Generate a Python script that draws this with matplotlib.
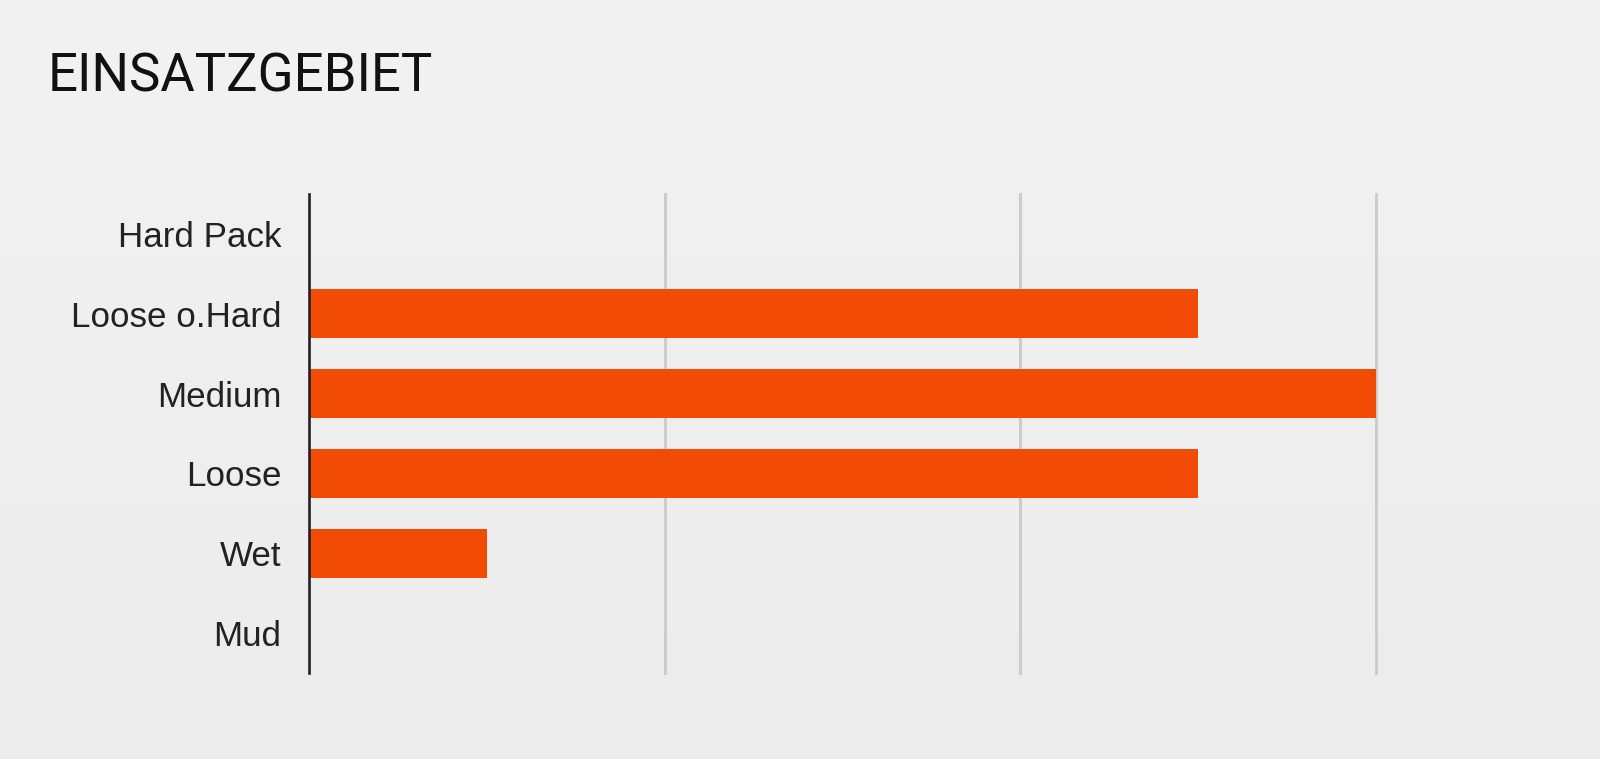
import matplotlib
matplotlib.use("Agg")
import matplotlib.pyplot as plt
import numpy as np
from matplotlib.colors import LinearSegmentedColormap

categories = ["Hard Pack", "Loose o.Hard", "Medium", "Loose", "Wet", "Mud"]
values = [0, 2.5, 3, 2.5, 0.5, 0]
grid_ticks = [1, 2, 3]
title = "EINSATZGEBIET"

W, H, DPI = 1600, 759, 100
fig = plt.figure(figsize=(W / DPI, H / DPI), dpi=DPI)

# subtle vertical background gradient
bg = fig.add_axes([0, 0, 1, 1], zorder=-10)
grad = np.linspace(0, 1, 256).reshape(-1, 1)
cmap = LinearSegmentedColormap.from_list("bg", ["#f2f2f2", "#ececec"])
bg.imshow(grad, aspect="auto", cmap=cmap, extent=[0, 1, 0, 1], origin="upper")
bg.axis("off")

x0_px, x3_px = 309, 1375.5
unit = (x3_px - x0_px) / 3
xmax = 3.2
left = x0_px / W
width = unit * xmax / W
bottom = (H - 673) / H
top = (H - 194) / H
ax = fig.add_axes([left, bottom, width, top - bottom])
ax.set_facecolor("none")

y = np.arange(len(categories))
ax.barh(y, values, height=0.62, color="#f24b05", zorder=3)

ax.set_xlim(0, xmax)
ax.set_ylim(len(categories) - 0.5, -0.5)
for g in grid_ticks:
    ax.axvline(g, color="#cccccc", lw=2.2, zorder=1, clip_on=False)

for s in ["top", "right", "bottom"]:
    ax.spines[s].set_visible(False)
ax.spines["left"].set_color("#222222")
ax.spines["left"].set_linewidth(1.9)
ax.spines["left"].set_zorder(4)

ax.set_xticks([])
ax.set_yticks(y)
ax.set_yticklabels(categories, fontsize=25.2, family="Liberation Sans", color="#222222")
ax.tick_params(axis="y", length=0, pad=20)

fig.text(48 / W, 1 - 92 / H, title, fontsize=38, family="Roboto", color="#111111",
         ha="left", va="baseline")

fig.savefig("out.png", dpi=DPI)
